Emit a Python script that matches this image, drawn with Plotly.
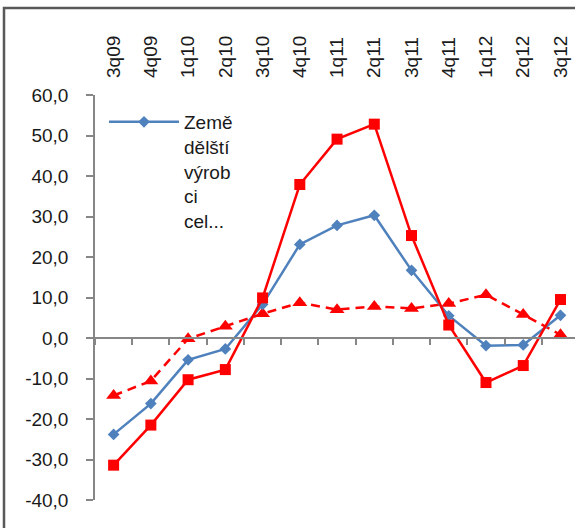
import plotly.graph_objects as go

categories = ["3q09", "4q09", "1q10", "2q10", "3q10", "4q10", "1q11", "2q11",
              "3q11", "4q11", "1q12", "2q12", "3q12"]
zemedelstvi = [-23.8, -16.2, -5.4, -2.7, 8.3, 23.1, 27.8, 30.3, 16.7, 5.5, -1.9, -1.7, 5.6]
red_squares = [-31.4, -21.5, -10.3, -7.8, 9.9, 37.9, 49.1, 52.8, 25.3, 3.2, -11.0, -6.8, 9.5]
red_triangles = [-14.2, -10.6, -0.2, 2.9, 6.0, 8.7, 7.0, 7.8, 7.3, 8.5, 10.7, 5.8, 0.8]
y_ticks = [60, 50, 40, 30, 20, 10, 0, -10, -20, -30, -40]
y_tick_text = ["60,0", "50,0", "40,0", "30,0", "20,0", "10,0", "0,0",
               "-10,0", "-20,0", "-30,0", "-40,0"]
legend_name = "Země<br>dělští<br>výrob<br>ci<br>cel..."

W, H = 575, 528
ML, MR, MT, MB = 95, 0, 95, 28
PW = W - ML - MR
PH = H - MT - MB

BLUE = "#4F81BD"
RED = "#FF0000"
AXIS = "#868686"
FONT = "Liberation Sans"

fig = go.Figure()
fig.add_trace(go.Scatter(
    x=categories, y=red_triangles, mode="lines+markers", showlegend=False,
    line=dict(color=RED, width=2.5, dash="9px,6px"),
    marker=dict(symbol="triangle-up", size=13, color=RED)))
fig.add_trace(go.Scatter(
    x=categories, y=zemedelstvi, mode="lines+markers", name=legend_name,
    line=dict(color=BLUE, width=2.5),
    marker=dict(symbol="diamond", size=9, color=BLUE)))
fig.add_trace(go.Scatter(
    x=categories, y=red_squares, mode="lines+markers", showlegend=False,
    line=dict(color=RED, width=2.5),
    marker=dict(symbol="square", size=11, color=RED)))

def px_x(px):
    return (px - ML) / PW

def px_y(py):
    return (H - MB - py) / PH

fig.update_layout(
    width=W, height=H,
    margin=dict(l=ML, r=MR, t=MT, b=MB, pad=0),
    paper_bgcolor="white", plot_bgcolor="white",
    font=dict(family=FONT, size=19, color="#1a1a1a"),
    xaxis=dict(type="category", categoryorder="array", categoryarray=categories,
               range=[-0.5, 12.39], side="top", tickangle=-90,
               showline=False, showgrid=False, zeroline=False, ticks="",
               ticklabelstandoff=16, tickfont=dict(size=19, color="#1a1a1a")),
    xaxis2=dict(type="category", categoryorder="array", categoryarray=categories,
                matches="x", overlaying="x", anchor="free", position=0.4,
                showline=True, linecolor=AXIS, linewidth=1.5,
                ticks="outside", tickson="boundaries", ticklen=6, tickwidth=1.5,
                tickcolor=AXIS, showticklabels=False, showgrid=False, zeroline=False),
    yaxis=dict(range=[-40, 60], tickvals=y_ticks, ticktext=y_tick_text,
               showline=True, linecolor=AXIS, linewidth=1.5,
               ticks="outside", ticklen=7, tickwidth=1.5, tickcolor=AXIS,
               ticklabelstandoff=14, showgrid=False, zeroline=False,
               tickfont=dict(size=19, color="#1a1a1a")),
    legend=dict(x=px_x(104), y=px_y(103), xanchor="left", yanchor="top",
                bgcolor="rgba(0,0,0,0)", valign="top", itemwidth=70,
                font=dict(size=19, color="#1a1a1a")),
    shapes=[dict(type="rect", xref="paper", yref="paper",
                 x0=px_x(4), x1=px_x(W + 20), y0=px_y(H + 20), y1=px_y(8),
                 line=dict(color="#595959", width=2.5), fillcolor="rgba(0,0,0,0)",
                 layer="above")],
)

# dummy invisible trace to keep xaxis2 drawn
fig.add_trace(go.Scatter(x=categories, y=[None] * len(categories), xaxis="x2",
                         showlegend=False, hoverinfo="skip"))

fig.write_html("out.html", config={"displayModeBar": False},
               post_script="document.body.style.margin='0';document.body.style.overflow='hidden';")
